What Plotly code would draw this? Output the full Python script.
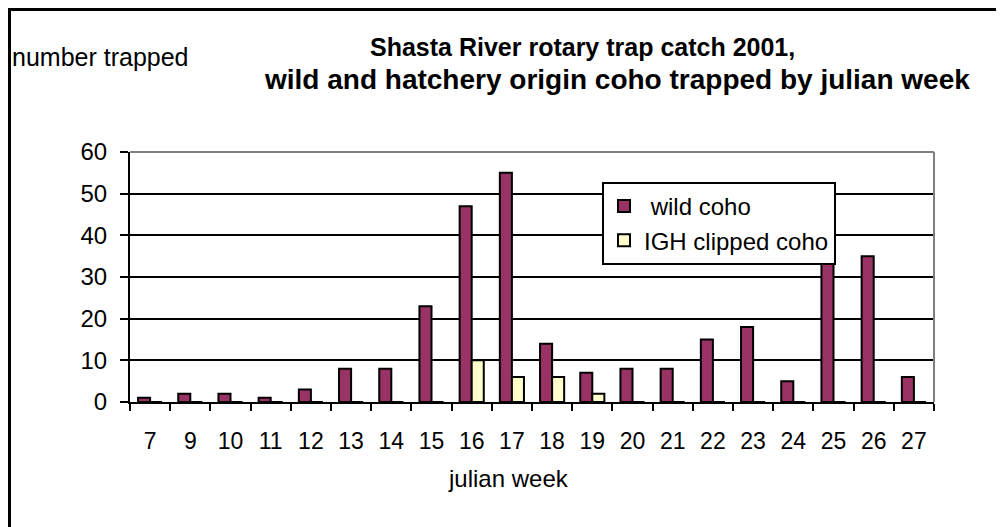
import plotly.graph_objects as go

weeks = ["7", "9", "10", "11", "12", "13", "14", "15", "16", "17", "18", "19", "20", "21", "22", "23", "24", "25", "26", "27"]
wild_coho = [1, 2, 2, 1, 3, 8, 8, 23, 47, 55, 14, 7, 8, 8, 15, 18, 5, 37, 35, 6]
igh_clipped = [0, 0, 0, 0, 0, 0, 0, 0, 10, 6, 6, 2, 0, 0, 0, 0, 0, 0, 0, 0]
y_ticks = [0, 10, 20, 30, 40, 50, 60]

FONT = "Liberation Sans, Arial, sans-serif"

# page geometry (the page body has an 8px margin)
OFF = 8
PAGE_W, PAGE_H = 1004, 527
W, H = PAGE_W - OFF, PAGE_H - OFF
# plot area in page pixels
L, R, T, B = 130, 934, 152, 402
pw, ph = R - L, B - T

def px(x):
    return (x - L) / pw

def py(y):
    return (B - y) / ph

fig = go.Figure()
fig.add_trace(go.Bar(
    x=weeks, y=wild_coho, name="\u00a0wild coho", legendgroup="a",
    marker=dict(color="#993366", line=dict(color="black", width=2)),
))
fig.add_trace(go.Bar(
    x=weeks, y=igh_clipped, name="IGH clipped coho", legendgroup="b",
    marker=dict(color="#FFFFCC", line=dict(color="black", width=2)),
))

fig.update_layout(
    width=W, height=H,
    margin=dict(l=L - OFF, r=PAGE_W - R, t=T - OFF, b=PAGE_H - B, pad=0),
    paper_bgcolor="white", plot_bgcolor="white",
    barmode="group", bargap=0.4, bargroupgap=0,
    font=dict(family=FONT, color="black", size=20),
    showlegend=True,
    legend=dict(
        x=px(602), y=py(182), xanchor="left", yanchor="top",
        bgcolor="white", bordercolor="black", borderwidth=2,
        font=dict(size=24, family=FONT), tracegroupgap=0,
        traceorder="grouped",
    ),
    xaxis=dict(
        type="category", showline=True, linecolor="black", linewidth=2,
        ticks="outside", ticklen=7, tickwidth=2, tickcolor="black",
        tickson="boundaries", showgrid=False, ticklabelstandoff=17,
        tickfont=dict(size=23, family=FONT), fixedrange=True,
    ),
    yaxis=dict(
        range=[0, 60], tickvals=y_ticks, showline=True, linecolor="black", linewidth=2,
        ticks="outside", ticklen=8, tickwidth=2, tickcolor="black",
        showgrid=True, gridcolor="black", gridwidth=1.5, zeroline=False,
        ticklabelstandoff=8, tickfont=dict(size=24, family=FONT),
    ),
    shapes=[
        dict(type="line", xref="paper", yref="paper", x0=0, x1=1, y0=1, y1=1,
             line=dict(color="#808080", width=2)),
        dict(type="line", xref="paper", yref="paper", x0=1, x1=1, y0=0, y1=1,
             line=dict(color="#808080", width=2)),
        dict(type="rect", xref="paper", yref="paper",
             x0=px(9), x1=px(1020), y0=py(9), y1=py(540),
             line=dict(color="black", width=4), fillcolor="rgba(0,0,0,0)"),
    ],
    annotations=[
        dict(text="<b>Shasta River rotary trap catch 2001,</b>", xref="paper", yref="paper",
             x=px(582), y=py(47), xanchor="center", yanchor="middle", showarrow=False,
             font=dict(size=25, family=FONT)),
        dict(text="<b>wild and hatchery origin coho trapped by julian week</b>", xref="paper", yref="paper",
             x=px(617), y=py(80), xanchor="center", yanchor="middle", showarrow=False,
             font=dict(size=28, family=FONT)),
        dict(text="number trapped", xref="paper", yref="paper",
             x=px(10), y=py(57), xanchor="left", yanchor="middle", showarrow=False,
             font=dict(size=25, family=FONT)),
        dict(text="julian week", xref="paper", yref="paper",
             x=px(508), y=py(478), xanchor="center", yanchor="middle", showarrow=False,
             font=dict(size=24, family=FONT)),
    ],
)

fig.write_html("out.html")
